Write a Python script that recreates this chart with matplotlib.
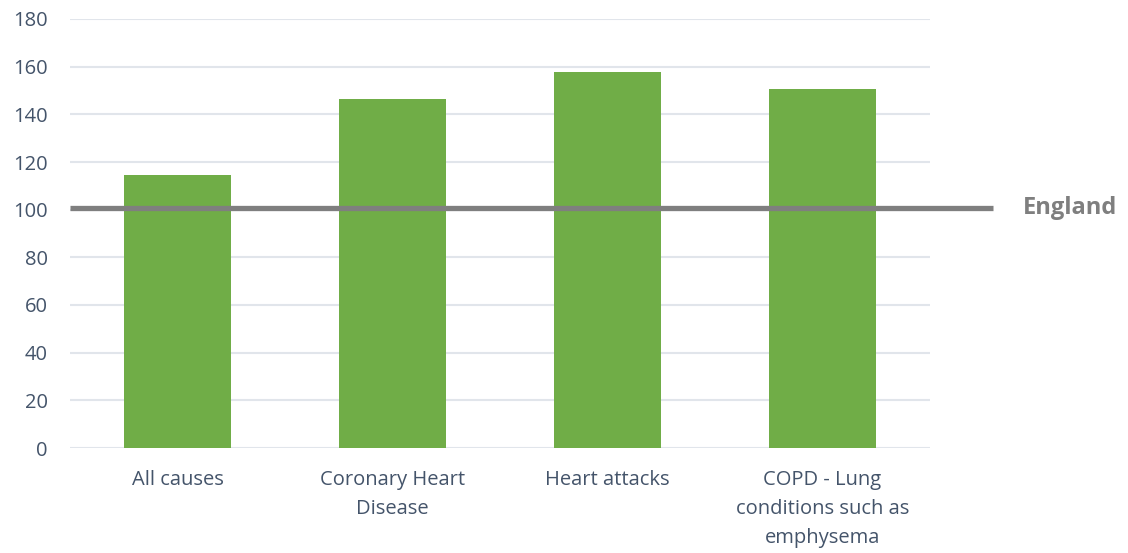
import matplotlib
matplotlib.use("Agg")
import matplotlib.pyplot as plt

categories = ["All causes", "Coronary Heart\nDisease", "Heart attacks",
              "COPD - Lung\nconditions such as\nemphysema"]
values = [114.5, 146.5, 157.8, 150.5]
england = 100.5
yticks = [0, 20, 40, 60, 80, 100, 120, 140, 160, 180]

plt.rcParams['font.family'] = ['Open Sans', 'DejaVu Sans']

fig = plt.figure(figsize=(11.28, 5.53), dpi=100)
ax = fig.add_axes([70/1128, 1-448/553, 860/1128, (448-19)/553])

x = list(range(len(categories)))
ax.bar(x, values, width=0.5, color="#70AD47", zorder=2)
ax.set_xlim(-0.5, 3.5)
ax.set_ylim(0, 180)
ax.set_yticks(yticks)
ax.set_xticks(x)
ax.set_xticklabels(categories, fontsize=14.5, color="#44546A", linespacing=1.6)
ax.tick_params(axis='y', labelsize=14.5, labelcolor="#44546A", length=0, pad=16)
ax.tick_params(axis='x', length=0, pad=16)
for t in ax.get_xticklabels():
    t.set_verticalalignment('top')
ax.grid(axis='y', color="#E1E5EB", linewidth=1.5, zorder=0)
for s in ax.spines.values():
    s.set_visible(False)

ax.plot([-0.5, 3.5 + 63/215], [england, england], color="#7F7F7F",
        linewidth=3.8, clip_on=False, zorder=3, solid_capstyle='butt')
ax.text(3.5 + 93/215, england, "England", fontsize=17, fontweight='bold',
        color="#7F7F7F", va='center', ha='left', clip_on=False)

fig.savefig("out.png", dpi=100)
